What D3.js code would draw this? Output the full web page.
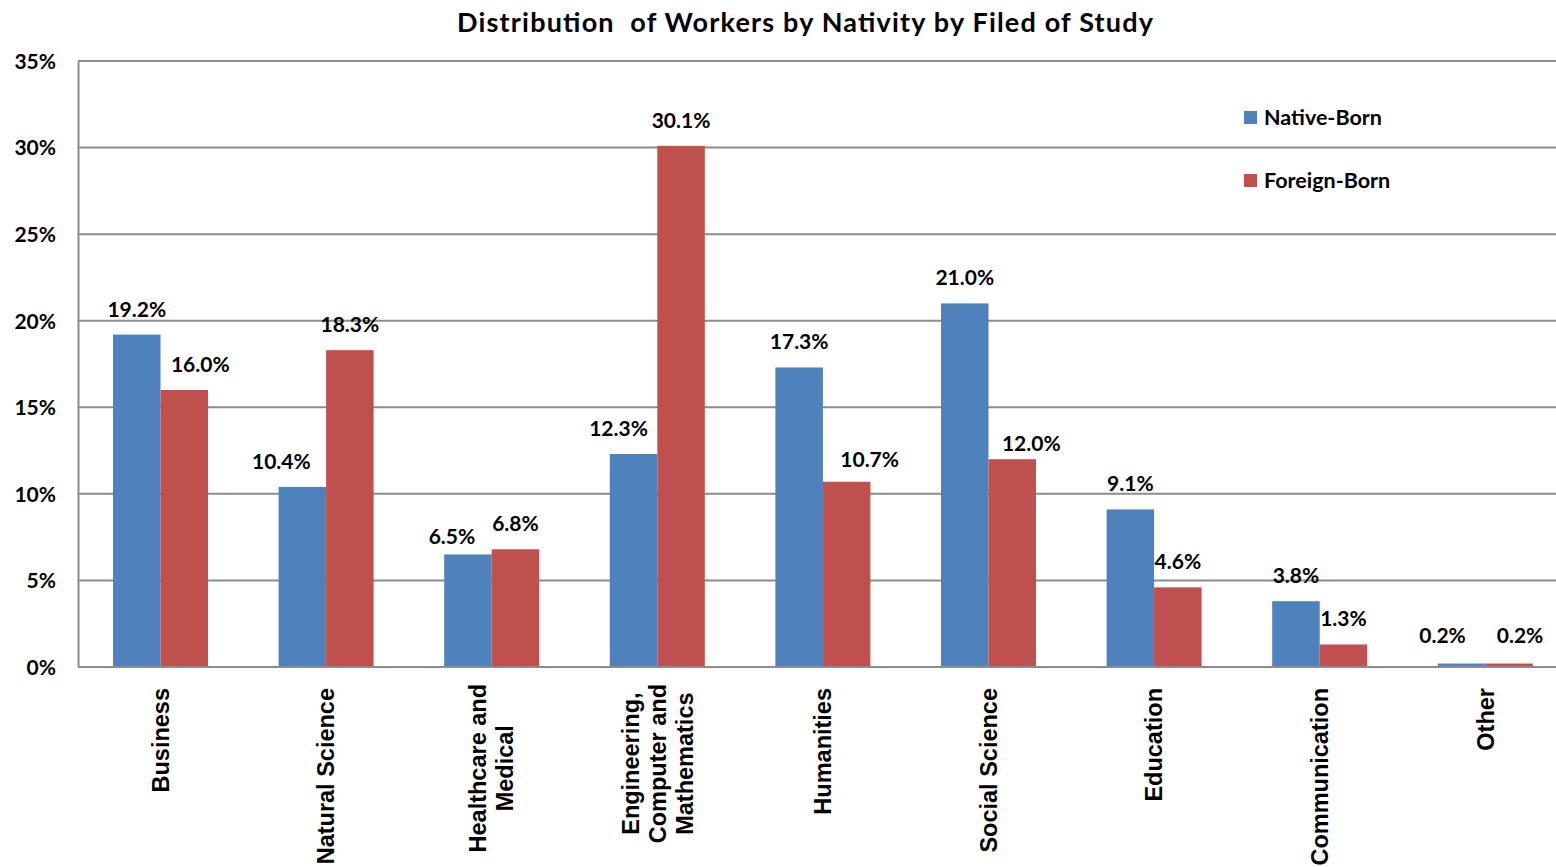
<html>
<head>
  <script src="https://d3js.org/d3.v7.min.js"></script>
  <style>
    body { margin: 0; background: white; }
    svg text { font-family: Lato, "Open Sans", sans-serif; font-weight: bold; fill: #000; }
    .cat text { font-family: "Liberation Sans", Arial, sans-serif; }
  </style>
</head>
<body>
<svg id="chart" width="1556" height="867"></svg>
<script>
  var categories = ["Business", "Natural Science", "Healthcare and|Medical", "Engineering,|Computer and|Mathematics",
                    "Humanities", "Social Science", "Education", "Communication", "Other"];
  var nativeBorn = [19.2, 10.4, 6.5, 12.3, 17.3, 21.0, 9.1, 3.8, 0.2];
  var foreignBorn = [16.0, 18.3, 6.8, 30.1, 10.7, 12.0, 4.6, 1.3, 0.2];
  var seriesNames = ["Native-Born", "Foreign-Born"];
  var colors = ["#4f81bd", "#c0504d"];
  var yTicks = [0, 5, 10, 15, 20, 25, 30, 35];

  // label nudges so neighbouring value labels don't collide (as placed in the original)
  var nativeNudgeX = [0, -21, -16, -15, 0, 0, 0, 0, -19];
  var foreignNudgeX = [16, 0, 0, 0, 23, 19, 0, 0, 11];
  var nativeNudgeY = [0, 0, 8, 0, 0, 0, 0, 0, -3];
  var foreignNudgeY = [0, 0, 0, 0, 3, 10, 0, 0, -3];

  var plotLeft = 78, plotRight = 1556, plotTop = 61, plotBottom = 667;
  var step = 165.6;
  var svg = d3.select("#chart");

  // the last band runs a little past the right edge of the picture, as in the original
  var x = d3.scaleBand().domain(categories).range([plotLeft, plotLeft + step * categories.length]);
  var inner = d3.scaleBand().domain(seriesNames).range([35, 130]);
  var y = d3.scaleLinear().domain([0, 35]).range([plotBottom, plotTop]);

  // title
  svg.append("text")
     .attr("x", 805).attr("y", 32)
     .attr("text-anchor", "middle")
     .style("font-size", "27px")
     .style("white-space", "pre")
     .attr("textLength", 696)
     .text("Distribution  of Workers by Nativity by Filed of Study");

  // gridlines
  svg.append("g").selectAll("line")
     .data(yTicks)
     .enter().append("line")
     .attr("x1", plotLeft).attr("x2", plotRight)
     .attr("y1", d => y(d)).attr("y2", d => y(d))
     .style("stroke", "#8c8c8c").style("stroke-width", 2);

  // y axis
  var yAxis = svg.append("g")
     .attr("transform", "translate(" + plotLeft + ",0)")
     .call(d3.axisLeft(y).tickValues(yTicks).tickFormat(d => d + "%").tickSize(0).tickPadding(22));
  yAxis.select(".domain").style("stroke", "#8c8c8c").style("stroke-width", 2);
  yAxis.selectAll("text").style("font-size", "21px").attr("dy", "0.35em");

  var rows = categories.map((c, i) => ({
    cat: c,
    values: [nativeBorn[i], foreignBorn[i]],
    nx: [nativeNudgeX[i], foreignNudgeX[i]],
    ny: [nativeNudgeY[i], foreignNudgeY[i]]
  }));

  var groups = svg.append("g").selectAll("g")
     .data(rows)
     .enter().append("g")
     .attr("transform", d => "translate(" + x(d.cat) + ",0)");

  groups.selectAll("rect")
     .data(d => d.values.map((v, j) => ({ key: seriesNames[j], value: v, j: j })))
     .enter().append("rect")
     .attr("x", d => inner(d.key))
     .attr("width", inner.bandwidth())
     .attr("y", d => y(d.value))
     .attr("height", d => y(0) - y(d.value))
     .style("fill", d => colors[d.j]);

  groups.selectAll("text.val")
     .data(d => d.values.map((v, j) => ({ key: seriesNames[j], value: v, nx: d.nx[j], ny: d.ny[j] })))
     .enter().append("text")
     .attr("class", "val")
     .attr("x", d => inner(d.key) + inner.bandwidth() / 2 + d.nx)
     .attr("y", d => y(d.value) - 18 + d.ny)
     .attr("text-anchor", "middle")
     .style("font-size", "21px")
     .text(d => d.value.toFixed(1) + "%");

  // bottom axis line
  svg.append("line")
     .attr("x1", plotLeft).attr("x2", plotRight)
     .attr("y1", plotBottom).attr("y2", plotBottom)
     .style("stroke", "#8c8c8c").style("stroke-width", 2);

  // category labels, rotated
  var cat = svg.append("g").attr("class", "cat");
  categories.forEach(function(c) {
    var lines = c.split("|");
    var cx = x(c) + 82.5;
    var g = cat.append("g");
    var texts = lines.map(function(l, k) {
      return g.append("text")
        .attr("text-anchor", "middle")
        .style("font-size", "23.5px")
        .attr("x", 0)
        .attr("y", (k - (lines.length - 1) / 2) * 27)
        .attr("dy", "0.35em")
        .text(l);
    });
    var maxLen = d3.max(texts, t => t.node().getComputedTextLength());
    var topY = lines.length > 1 ? 684 : 688;
    g.attr("transform", "translate(" + cx + "," + (topY + maxLen / 2) + ") rotate(-90)");
  });

  // legend
  var legend = svg.append("g");
  seriesNames.forEach(function(s, i) {
    var ly = 117 + i * 63;
    legend.append("rect")
      .attr("x", 1244).attr("y", ly - 6).attr("width", 13).attr("height", 13)
      .style("fill", colors[i]);
    legend.append("text")
      .attr("x", 1264).attr("y", ly).attr("dy", "0.35em")
      .style("font-size", "21.5px")
      .text(s);
  });
</script>
</body>
</html>
